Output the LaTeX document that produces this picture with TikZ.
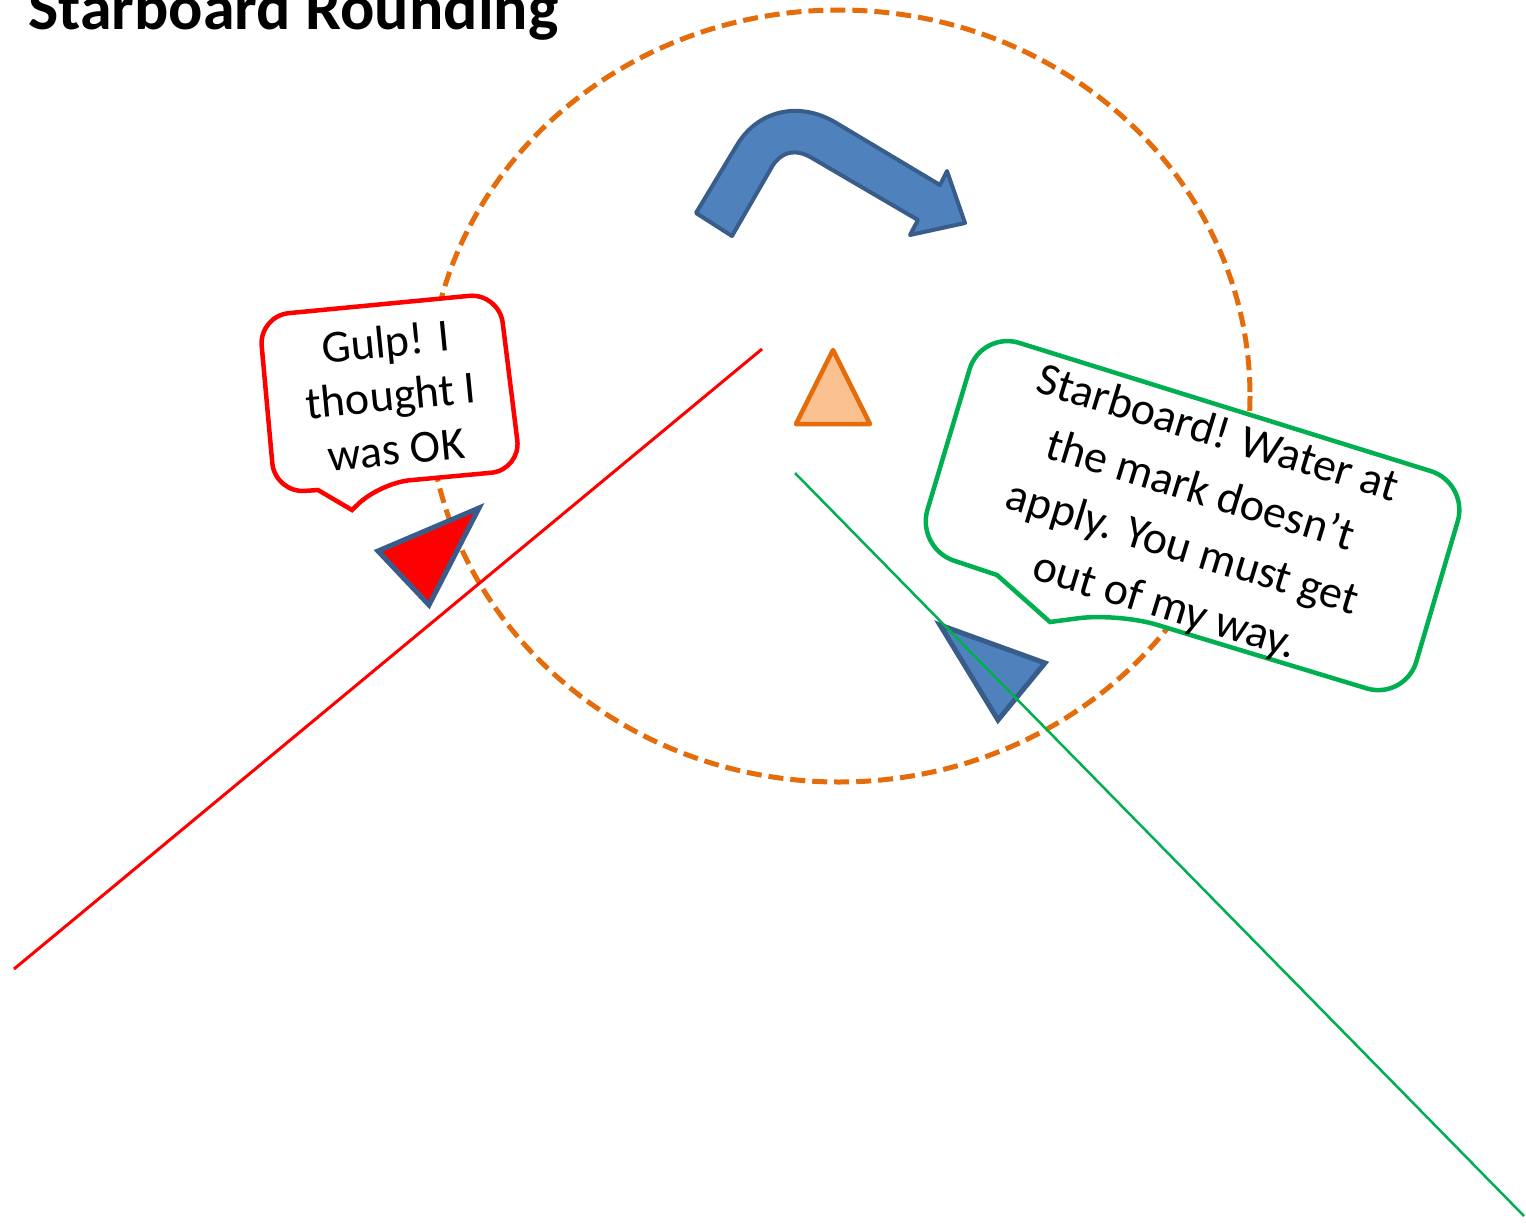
\documentclass[tikz,border=0pt]{standalone}
\usepackage{fontspec}
\setmainfont{Carlito}
\begin{document}
\begin{tikzpicture}[x=1pt,y=-1pt,
  zonering/.style={draw=zoneorange,line width=5pt,dash pattern=on 15pt off 7pt},
  boatshape/.style={draw=boatedge,line width=5pt,line join=miter},
  calloutshape/.style={fill=white,line width=4.5pt,rounded corners=30pt},
  saytext/.style={align=center,inner sep=0pt,text=black}]
\definecolor{zoneorange}{HTML}{E46C0A}
\definecolor{markfill}{HTML}{FAC090}
\definecolor{boatblue}{HTML}{4F81BD}
\definecolor{boatedge}{HTML}{385D8A}
\definecolor{sayred}{HTML}{FF0000}
\definecolor{saygreen}{HTML}{00B050}
\useasboundingbox (0,0) rectangle (1526,1226);
\fill[white] (0,0) rectangle (1526,1226);

% title
\node[anchor=base west,inner sep=0pt,font=\fontsize{64}{76}\selectfont\bfseries] (title) at (28,29) {Starboard Rounding};

% three-length zone
\draw[zonering] (839,396) ellipse [x radius=411, y radius=386];

% red callout
\draw[calloutshape,draw=sayred] (259,316) -- (499,293) -- (521,470) -- (380,483)
  [rounded corners=0pt] -- (352,510) -- (318,490) [rounded corners=30pt] -- (275,493) -- cycle;
\node[saytext,rotate=5.6,font=\fontsize{46}{54}\selectfont] (gulp) at (391,395) {Gulp! I\\thought I\\was OK};

% green callout
\draw[calloutshape,draw=saygreen,rounded corners=40pt] (981,331) -- (1469,483) -- (1405,700) -- (1118,613)
  [rounded corners=0pt] -- (1050,622) -- (997,575) [rounded corners=40pt] -- (916,548) -- cycle;
\node[saytext,rotate=-17,font=\fontsize{46}{60}\selectfont] (shout) at (1191,521) {Starboard! Water at\\the mark doesn’t\\apply. You must get\\out of my way.};

% boats
\draw[boatshape,fill=sayred] (378,551) -- (479,508) -- (429,605) -- cycle;
\draw[boatshape,fill=boatblue] (940,625) -- (1045,663) -- (998,720) -- cycle;

% tracks
\draw[sayred,line width=3pt] (14,969) -- (762,349);
\draw[saygreen,line width=2.5pt] (795,473) -- (1524,1216);

% mark
\draw[draw=zoneorange,fill=markfill,line width=4.5pt,line join=round] (833,350) -- (870,424) -- (796,424) -- cycle;

% rounding arrow
\draw[draw=boatedge,fill=boatblue,line width=4pt,line join=round]
  (696,213) -- (737,145) .. controls (758,110) and (800,100) .. (838,124)
  -- (940,185) -- (947,171) -- (965,223) -- (910,235) -- (918,220)
  -- (812,158) .. controls (795,148) and (782,152) .. (773,165)
  -- (732,236) -- cycle;
\end{tikzpicture}
\end{document}
